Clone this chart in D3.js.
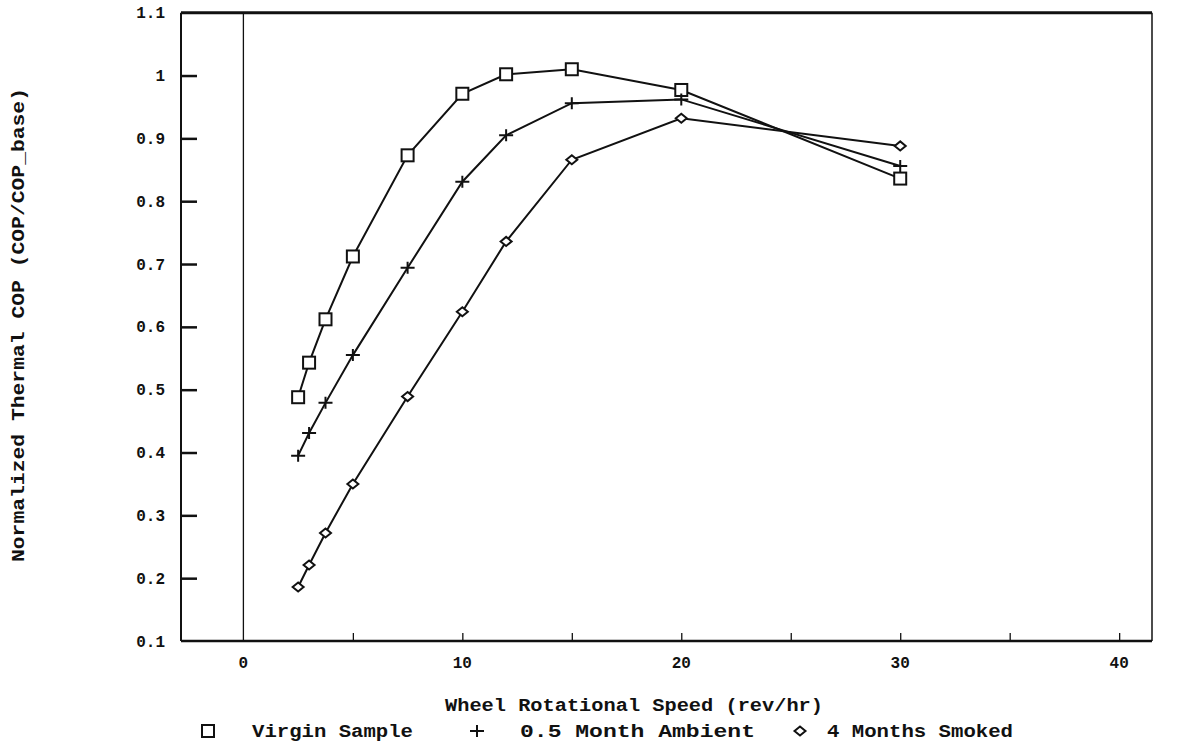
<!DOCTYPE html>
<html>
<head>
<meta charset="utf-8">
<script src="https://cdn.jsdelivr.net/npm/d3@7"></script>
<style>
  html, body { margin: 0; padding: 0; background: #fff; }
  svg { display: block; }
  text { font-family: "Liberation Mono", "Courier New", monospace; font-weight: bold; fill: #111; }
</style>
</head>
<body>
<svg id="chart" width="1182" height="751"></svg>
<script>
// ---- data ----
const speeds = [2.5, 3, 3.75, 5, 7.5, 10, 12, 15, 20, 30];
const virginSample = [0.488, 0.543, 0.612, 0.712, 0.873, 0.971, 1.002, 1.01, 0.977, 0.836];
const monthAmbient = [0.395, 0.431, 0.479, 0.555, 0.694, 0.831, 0.905, 0.956, 0.962, 0.856];
const monthsSmoked = [0.186, 0.221, 0.272, 0.35, 0.489, 0.624, 0.736, 0.866, 0.932, 0.888];
const seriesNames = ["Virgin Sample", "0.5 Month Ambient", "4 Months Smoked"];
const xTickValues = [0, 10, 20, 30, 40];
const xMinorTicks = [5, 10, 15, 20, 25, 30, 35, 40];
const yTickValues = [0.1, 0.2, 0.3, 0.4, 0.5, 0.6, 0.7, 0.8, 0.9, 1.0, 1.1];
const xTitle = "Wheel Rotational Speed (rev/hr)";
const yTitle = "Normalized Thermal COP (COP/COP_base)";

// ---- layout ----
const svg = d3.select("#chart");
const L = 181, R = 1152, T = 12.7, B = 641;
const x = d3.scaleLinear().domain([-2.85, 41.5]).range([L, R]);
const y = d3.scaleLinear().domain([0.1, 1.1]).range([B, T]);

// frame
svg.append("line").attr("x1", L).attr("x2", R).attr("y1", T).attr("y2", T).attr("stroke", "#111").attr("stroke-width", 3);
svg.append("line").attr("x1", L).attr("x2", R).attr("y1", B).attr("y2", B).attr("stroke", "#111").attr("stroke-width", 2.5);
svg.append("line").attr("x1", L).attr("x2", L).attr("y1", T).attr("y2", B).attr("stroke", "#111").attr("stroke-width", 2);
svg.append("line").attr("x1", R).attr("x2", R).attr("y1", T).attr("y2", B).attr("stroke", "#111").attr("stroke-width", 1.5);

// zero line
svg.append("line").attr("x1", x(0)).attr("x2", x(0)).attr("y1", T).attr("y2", B).attr("stroke", "#111").attr("stroke-width", 1.3);

// y axis (ticks inward)
const yAxis = d3.axisRight(y).tickValues(yTickValues.slice(1, -1)).tickSize(16).tickFormat("");
const gy = svg.append("g").attr("transform", `translate(${L},0)`).call(yAxis);
gy.select(".domain").remove();
gy.selectAll(".tick line").attr("stroke", "#111").attr("stroke-width", 2.5);

svg.append("g").selectAll("text").data(yTickValues).join("text")
  .attr("x", 165).attr("y", d => y(d)).attr("dy", "0.35em")
  .attr("text-anchor", "end").attr("font-size", 16)
  .text(d => d3.format("~g")(d));

// x axis (ticks inward)
const xAxis = d3.axisTop(x).tickValues(xMinorTicks).tickSize(8).tickFormat("");
const gx = svg.append("g").attr("transform", `translate(0,${B})`).call(xAxis);
gx.select(".domain").remove();
gx.selectAll(".tick line").attr("stroke", "#111").attr("stroke-width", 1.3);

svg.append("g").selectAll("text").data(xTickValues).join("text")
  .attr("x", d => x(d)).attr("y", 668)
  .attr("text-anchor", "middle").attr("font-size", 16)
  .text(d => d);

// titles
svg.append("text").attr("x", 634).attr("y", 711).attr("text-anchor", "middle")
  .attr("font-size", 19).attr("textLength", 378).attr("lengthAdjust", "spacingAndGlyphs").text(xTitle);
svg.append("text").attr("transform", "translate(24,325) rotate(-90)").attr("text-anchor", "middle")
  .attr("font-size", 19).attr("textLength", 474).attr("lengthAdjust", "spacingAndGlyphs").text(yTitle);

// ---- series ----
const series = [
  { name: seriesNames[0], values: virginSample, marker: "square" },
  { name: seriesNames[1], values: monthAmbient, marker: "plus" },
  { name: seriesNames[2], values: monthsSmoked, marker: "diamond" }
];
const line = d3.line().x(d => x(d[0])).y(d => y(d[1]));

function drawMarker(g, type, cx, cy) {
  if (type === "square") {
    g.append("rect").attr("x", cx - 6).attr("y", cy - 6).attr("width", 12).attr("height", 12)
      .attr("fill", "#fff").attr("stroke", "#111").attr("stroke-width", 2);
  } else if (type === "plus") {
    g.append("path").attr("d", `M${cx - 7},${cy}H${cx + 7}M${cx},${cy - 6}V${cy + 6}`)
      .attr("stroke", "#111").attr("stroke-width", 2).attr("fill", "none");
  } else {
    g.append("path").attr("d", `M${cx - 5.5},${cy}L${cx},${cy - 4.5}L${cx + 5.5},${cy}L${cx},${cy + 4.5}Z`)
      .attr("fill", "#fff").attr("stroke", "#111").attr("stroke-width", 2);
  }
}

series.forEach(s => {
  const pts = speeds.map((v, i) => [v, s.values[i]]);
  svg.append("path").datum(pts).attr("d", line)
    .attr("fill", "none").attr("stroke", "#111").attr("stroke-width", 2);
});
series.forEach(s => {
  const g = svg.append("g");
  speeds.forEach((v, i) => drawMarker(g, s.marker, x(v), y(s.values[i])));
});

// ---- legend ----
const legendY = 737;
const legendItems = [
  { marker: "square", mx: 208, tx: 252, len: 161 },
  { marker: "plus", mx: 477, tx: 520, len: 235 },
  { marker: "diamond", mx: 800, tx: 827, len: 186 }
];
legendItems.forEach((it, i) => {
  const g = svg.append("g");
  drawMarker(g, it.marker, it.mx, legendY - 6);
  g.append("text").attr("x", it.tx).attr("y", legendY).attr("font-size", 19)
    .attr("textLength", it.len).attr("lengthAdjust", "spacingAndGlyphs").text(series[i].name);
});
</script>
</body>
</html>
